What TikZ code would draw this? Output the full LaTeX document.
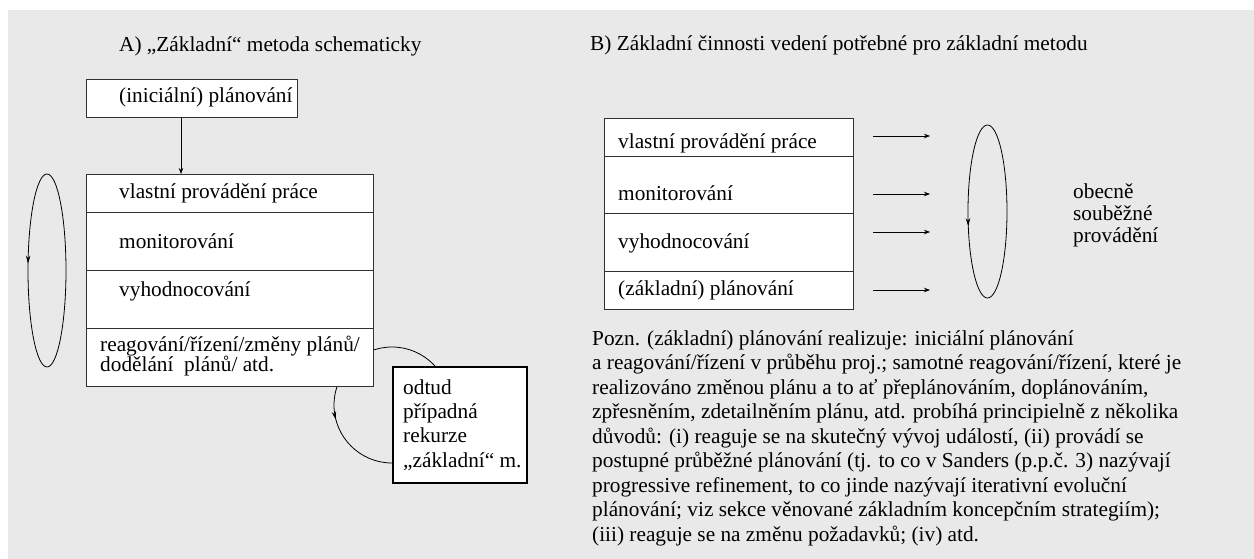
\documentclass[tikz,border=0pt]{standalone}
\usepackage{fontspec}
\setmainfont{Liberation Serif}
\usetikzlibrary{arrows.meta,decorations.markings}
\definecolor{bg}{HTML}{E9E9E9}
\definecolor{ln}{HTML}{303030}
\tikzset{
  cell/.style={draw=ln, line width=0.9pt, fill=white, anchor=north west, inner sep=0pt, outer sep=0pt},
  txt/.style={anchor=west, inner sep=0pt, font=\fontsize{21.3}{24.5}\selectfont},
  arr/.style={-{Stealth[length=6pt,width=4.5pt]}, line width=0.7pt, draw=black},
  cyc/.style={line width=0.8pt, draw=black, postaction={decorate},
    decoration={markings, mark=at position #1 with {\arrow{Stealth[length=8pt,width=4.5pt]}}}},
}
\begin{document}
\begin{tikzpicture}[x=1pt,y=1pt]
\useasboundingbox (0,0) rectangle (1254,-559);
\fill[bg] (8,-10) rectangle (1254,-559);

% ---------- A ----------
\node[txt] (tA) at (119,-46) {A) „Základní“ metoda schematicky};

\draw[cyc=0.483] (47,-270.5) ellipse[x radius=19, y radius=96.5];
\draw[cyc=0.54] (392,-405) circle[radius=58];

\node[cell, minimum width=211pt, minimum height=38pt] (init) at (86,-79) {};
\node[txt] (tinit) at (119,-97) {(iniciální) plánování};

\node[cell, minimum width=287pt, minimum height=38pt] (a1) at (86,-174) {};
\node[cell, minimum width=287pt, minimum height=58pt] (a2) at (86,-212) {};
\node[cell, minimum width=287pt, minimum height=58pt] (a3) at (86,-270) {};
\node[cell, minimum width=287pt, minimum height=58pt] (a4) at (86,-328) {};
\node[txt] (ta1) at (119,-193) {vlastní provádění práce};
\node[txt] (ta2) at (119,-241) {monitorování};
\node[txt] (ta3) at (119,-291) {vyhodnocování};
\node[txt, align=left, font=\fontsize{21.3}{20.5}\selectfont] (ta4) at (100,-356)
  {reagování/řízení/změny plánů/\\dodělání\ \ plánů/ atd.};

\coordinate (ax) at (181,0);
\draw[arr] (init.south -| ax) -- (a1.north -| ax);

\node[cell, draw=black, line width=2pt, minimum width=134pt, minimum height=116pt] (rec) at (393,-367) {};
\node[txt, align=left, font=\fontsize{21.3}{24.3}\selectfont] (trec) at (403,-425)
  {odtud\\případná\\rekurze\\„základní“ m.};

% ---------- B ----------
\node[txt] (tB) at (590,-45) {B) Základní činnosti vedení potřebné pro základní metodu};

\node[cell, minimum width=249pt, minimum height=38pt] (b1) at (604,-118) {};
\node[cell, minimum width=249pt, minimum height=57pt] (b2) at (604,-156) {};
\node[cell, minimum width=249pt, minimum height=58pt] (b3) at (604,-213) {};
\node[cell, minimum width=249pt, minimum height=38pt] (b4) at (604,-271) {};
\node[txt] (tb1) at (618,-143) {vlastní provádění práce};
\node[txt] (tb2) at (618,-193) {monitorování};
\node[txt] (tb3) at (618,-243) {vyhodnocování};
\node[txt] (tb4) at (618,-290) {(základní) plánování};

\coordinate (s1) at (873,-136); \coordinate (e1) at (930,-136);
\coordinate (s2) at (873,-194); \coordinate (e2) at (930,-194);
\coordinate (s3) at (873,-232); \coordinate (e3) at (930,-232);
\coordinate (s4) at (873,-290); \coordinate (e4) at (930,-290);
\draw[arr] (s1) -- (e1);
\draw[arr] (s2) -- (e2);
\draw[arr] (s3) -- (e3);
\draw[arr] (s4) -- (e4);

\draw[cyc=0.54] (987.5,-211.5) ellipse[x radius=19.5, y radius=86.5];

\node[txt, align=left, font=\fontsize{21.3}{22}\selectfont] (tob) at (1073,-215)
  {obecně\\souběžné\\provádění};

\node[txt, align=left] (note) at (592,-438)
  {Pozn. (základní) plánování realizuje: iniciální plánování\\
   a reagování/řízení v průběhu proj.; samotné reagování/řízení, které je\\
   realizováno změnou plánu a to ať přeplánováním, doplánováním,\\
   zpřesněním, zdetailněním plánu, atd. probíhá principielně z několika\\
   důvodů: (i) reaguje se na skutečný vývoj událostí, (ii) provádí se\\
   postupné průběžné plánování (tj. to co v Sanders (p.p.č. 3) nazývají\\
   progressive refinement, to co jinde nazývají iterativní evoluční\\
   plánování; viz sekce věnované základním koncepčním strategiím);\\
   (iii) reaguje se na změnu požadavků; (iv) atd.};
\end{tikzpicture}
\end{document}
